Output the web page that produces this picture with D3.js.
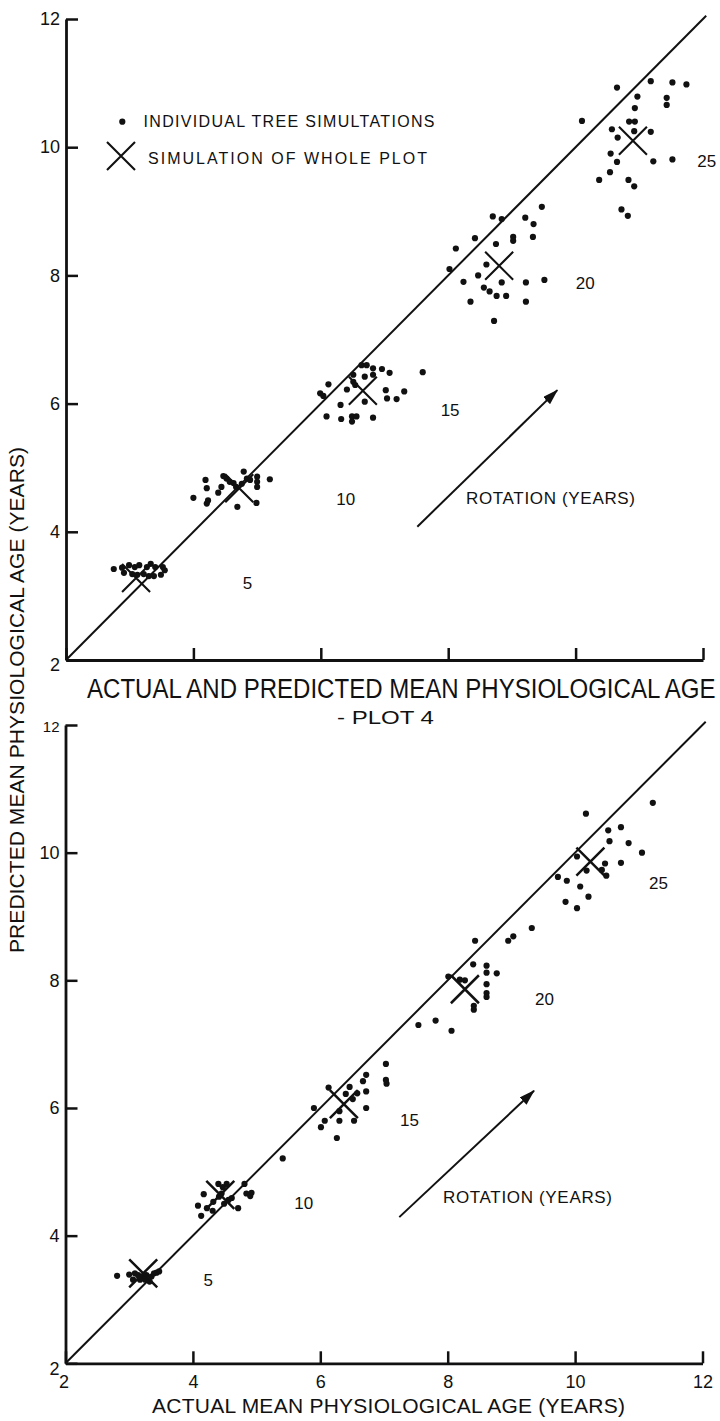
<!DOCTYPE html>
<html><head><meta charset="utf-8">
<script src="https://cdn.jsdelivr.net/npm/d3@7"></script>
<style>
body{margin:0;background:#fff}
svg{display:block}
text{font-family:"Liberation Sans",Arial,Helvetica,sans-serif;fill:#111}
</style>
</head><body>
<svg id="c" width="720" height="1421"></svg>
<script>
// ---------- DATA ----------
const tickValues = [2, 4, 6, 8, 10, 12];
const rotations = [5, 10, 15, 20, 25];

// [rotation, actual, predicted] – individual tree simulations, upper panel
const topIndividual = [
  [5,2.75,3.42],[5,2.88,3.44],[5,2.99,3.48],[5,3.08,3.45],[5,3.15,3.48],[5,3.27,3.45],[5,3.33,3.50],[5,3.40,3.45],[5,3.52,3.45],
  [5,2.91,3.36],[5,3.04,3.34],[5,3.12,3.33],[5,3.22,3.34],[5,3.30,3.31],[5,3.38,3.31],[5,3.49,3.33],[5,3.55,3.40],
  [10,4.00,4.53],[10,4.19,4.81],[10,4.21,4.68],[10,4.21,4.44],[10,4.23,4.49],[10,4.39,4.61],[10,4.44,4.70],[10,4.47,4.87],
  [10,4.52,4.83],[10,4.57,4.78],[10,4.63,4.76],[10,4.69,4.39],[10,4.79,4.94],[10,4.84,4.83],[10,4.89,4.81],[10,5.00,4.86],
  [10,5.00,4.78],[10,5.00,4.70],[10,5.20,4.82],[10,4.99,4.45],[10,4.67,4.70],[10,4.76,4.75],
  [15,5.99,6.16],[15,6.04,6.12],[15,6.12,6.30],[15,6.09,5.80],[15,6.31,5.98],[15,6.32,5.76],[15,6.41,6.22],[15,6.49,5.80],
  [15,6.49,5.72],[15,6.56,5.80],[15,6.51,6.45],[15,6.51,6.34],[15,6.54,6.29],[15,6.64,6.60],[15,6.72,6.60],[15,6.69,6.42],
  [15,6.82,6.55],[15,6.82,6.45],[15,6.96,6.54],[15,7.08,6.48],[15,6.82,5.78],[15,6.69,6.03],[15,7.02,6.21],[15,7.04,6.08],
  [15,7.19,6.07],[15,7.31,6.19],[15,7.60,6.49],
  [20,8.02,8.10],[20,8.12,8.42],[20,8.24,7.90],[20,8.35,7.59],[20,8.42,8.58],[20,8.47,8.00],[20,8.56,7.81],[20,8.60,8.17],
  [20,8.65,7.75],[20,8.70,8.92],[20,8.72,7.29],[20,8.75,8.49],[20,8.76,7.68],[20,8.84,8.88],[20,8.84,7.89],[20,8.91,7.68],
  [20,9.02,8.60],[20,9.02,8.54],[20,9.21,8.90],[20,9.22,7.89],[20,9.22,7.59],[20,9.34,8.80],[20,9.33,8.60],[20,9.47,9.07],
  [20,9.51,7.93],
  [25,10.10,10.41],[25,10.37,9.49],[25,10.54,9.61],[25,10.55,9.90],[25,10.57,10.28],[25,10.65,9.77],[25,10.65,10.93],
  [25,10.66,10.15],[25,10.72,9.03],[25,10.82,8.93],[25,10.83,9.49],[25,10.84,10.40],[25,10.93,10.40],[25,10.92,10.25],
  [25,10.92,9.39],[25,10.93,10.61],[25,10.97,10.79],[25,11.18,11.03],[25,11.18,10.24],[25,11.22,9.78],[25,11.43,10.77],
  [25,11.43,10.66],[25,11.52,11.01],[25,11.52,9.81],[25,11.74,10.98]
];
// [rotation, actual, predicted] – simulation of whole plot, upper panel
const topWhole = [[5,3.10,3.28],[10,4.72,4.68],[15,6.66,6.20],[20,8.80,8.15],[25,10.90,10.10]];

// lower panel (Plot 4)
const bottomIndividual = [
  [5,2.81,3.37],[5,3.00,3.39],[5,3.06,3.31],[5,3.09,3.41],[5,3.14,3.38],[5,3.21,3.36],[5,3.27,3.38],[5,3.32,3.28],
  [5,3.35,3.36],[5,3.39,3.41],[5,3.43,3.42],[5,3.47,3.44],[5,3.17,3.31],[5,3.25,3.31],
  [10,4.08,4.47],[10,4.13,4.31],[10,4.17,4.65],[10,4.22,4.43],[10,4.31,4.39],[10,4.40,4.81],[10,4.41,4.61],[10,4.45,4.66],
  [10,4.49,4.50],[10,4.53,4.81],[10,4.56,4.56],[10,4.61,4.59],[10,4.71,4.43],[10,4.81,4.81],[10,4.84,4.66],[10,4.90,4.62],
  [10,4.92,4.67],[10,4.32,4.53],[10,4.47,4.76],
  [15,5.41,5.21],[15,5.90,6.00],[15,6.01,5.70],[15,6.07,5.80],[15,6.13,6.32],[15,6.26,5.53],[15,6.30,5.95],[15,6.30,5.80],
  [15,6.40,6.22],[15,6.46,6.33],[15,6.51,6.14],[15,6.53,5.80],[15,6.58,6.23],[15,6.67,6.42],[15,6.72,6.52],[15,6.72,6.26],
  [15,6.72,6.00],[15,7.03,6.69],[15,7.03,6.44],[15,7.04,6.38],
  [20,7.54,7.30],[20,7.81,7.37],[20,8.06,7.21],[20,8.01,8.06],[20,8.19,8.01],[20,8.27,8.00],[20,8.40,8.25],[20,8.43,8.62],
  [20,8.41,7.60],[20,8.41,7.54],[20,8.61,8.23],[20,8.61,8.12],[20,8.61,7.94],[20,8.61,7.80],[20,8.61,7.74],[20,8.77,8.11],
  [20,8.95,8.62],[20,9.03,8.69],[20,9.32,8.82],
  [25,9.73,9.62],[25,9.85,9.23],[25,9.87,9.56],[25,10.03,9.94],[25,10.03,9.13],[25,10.08,9.47],[25,10.17,10.61],
  [25,10.18,9.72],[25,10.21,9.31],[25,10.42,9.73],[25,10.47,9.83],[25,10.49,9.64],[25,10.52,10.35],[25,10.54,10.18],
  [25,10.72,10.40],[25,10.72,9.84],[25,10.84,10.15],[25,11.05,10.00],[25,11.22,10.78]
];
const bottomWhole = [[5,3.22,3.41],[10,4.43,4.64],[15,6.37,6.06],[20,8.27,7.86],[25,10.24,9.86]];

// rotation label anchors [rotation, actual, predicted]
const topRotationLabels = [[5,4.85,3.21],[10,6.39,4.51],[15,8.03,5.90],[20,10.15,7.89],[25,12.06,9.78]];
const bottomRotationLabels = [[5,4.24,3.31],[10,5.74,4.51],[15,7.40,5.82],[20,9.52,7.71],[25,11.31,9.52]];
// rotation arrows [[x0,y0],[x1,y1]] in data units
const topArrow = [[7.515,4.08],[9.713,6.21]];
const bottomArrow = [[7.24,4.29],[9.355,6.27]];

// ---------- DRAW ----------
const svg = d3.select("#c");
const defs = svg.append("defs");
defs.append("marker").attr("id","ah").attr("viewBox","0 0 16 10").attr("refX",15).attr("refY",5)
  .attr("markerWidth",16).attr("markerHeight",10).attr("markerUnits","userSpaceOnUse").attr("orient","auto")
  .append("path").attr("d","M0,0L16,5L0,10Z").attr("fill","#111");

function crossPath(cx, cy, s){
  return `M${cx-s},${cy-s}L${cx+s},${cy+s}M${cx-s},${cy+s}L${cx+s},${cy-s}`;
}

function drawPanel(cfg){
  const x = d3.scaleLinear().domain([2,12]).range(cfg.xr);
  const y = d3.scaleLinear().domain([2,12]).range(cfg.yr);
  const g = svg.append("g");

  const ax = g.append("g").attr("transform",`translate(0,${cfg.yr[0]})`)
    .call(d3.axisBottom(x).tickValues(tickValues).tickSizeInner(-12).tickSizeOuter(0).tickPadding(12)
      .tickFormat(cfg.xLabels ? d3.format("d") : ""));
  const ay = g.append("g").attr("transform",`translate(${cfg.xr[0]},0)`)
    .call(d3.axisLeft(y).tickValues(tickValues).tickSizeInner(-12).tickSizeOuter(0).tickPadding(6)
      .tickFormat(d3.format("d")));
  [ax, ay].forEach(a => {
    a.select(".domain").attr("stroke","#111").attr("stroke-width",2.8);
    a.selectAll(".tick line").attr("stroke","#111").attr("stroke-width",2.5);
    a.selectAll(".tick text").attr("font-size",18).attr("fill","#111")
      .attr("font-family",'"Liberation Sans",Arial,sans-serif');
  });
  ay.selectAll(".tick").filter(d => d === 2).select("text").attr("dy","0.6em");
  if (cfg.small12) ay.selectAll(".tick").filter(d => d === 12).select("text").attr("font-size",15).attr("dy","0.45em");
  if (cfg.xLabels) ax.selectAll(".tick").filter(d => d === 2).select("text").attr("dx","-2");

  g.append("line").attr("x1",x(2)).attr("y1",y(2)).attr("x2",x(12.05)).attr("y2",y(12.05))
    .attr("stroke","#111").attr("stroke-width",2);

  g.append("g").selectAll("circle").data(cfg.indiv).join("circle")
    .attr("cx",d=>x(d[1])).attr("cy",d=>y(d[2])).attr("r",3.1).attr("fill","#111");

  g.append("g").selectAll("path").data(cfg.whole).join("path")
    .attr("d",d=>crossPath(x(d[1]),y(d[2]),14)).attr("stroke","#111").attr("stroke-width",cfg.crossW).attr("fill","none");

  g.append("g").selectAll("text").data(cfg.labels).join("text")
    .attr("x",d=>x(d[1])).attr("y",d=>y(d[2])).attr("dy","0.36em").attr("text-anchor","middle")
    .attr("font-size",17).text(d=>d[0]);

  g.append("line").attr("x1",x(cfg.arrow[0][0])).attr("y1",y(cfg.arrow[0][1]))
    .attr("x2",x(cfg.arrow[1][0])).attr("y2",y(cfg.arrow[1][1]))
    .attr("stroke","#111").attr("stroke-width",2).attr("marker-end","url(#ah)");
  g.append("text").attr("x",cfg.rot[0]).attr("y",cfg.rot[1]).attr("font-size",17)
    .attr("textLength",169).text("ROTATION (YEARS)");
  return {x,y,g};
}

const upperPanel = drawPanel({xr:[66,703], yr:[660,19], indiv:topIndividual, whole:topWhole, labels:topRotationLabels,
  arrow:topArrow, rot:[466,504], xLabels:false, small12:false, crossW:2.1});
const lowerPanel = drawPanel({xr:[65.5,702.5], yr:[1363.3,725], indiv:bottomIndividual, whole:bottomWhole, labels:bottomRotationLabels,
  arrow:bottomArrow, rot:[443,1203], xLabels:true, small12:true, crossW:2.5});

// legend (upper panel)
svg.append("circle").attr("cx",122.3).attr("cy",121.7).attr("r",3.1).attr("fill","#111");
svg.append("text").attr("x",143.5).attr("y",127).attr("font-size",16).attr("textLength",291).text("INDIVIDUAL TREE SIMULTATIONS");
svg.append("path").attr("d",crossPath(121,156,14)).attr("stroke","#111").attr("stroke-width",2.1);
svg.append("text").attr("x",148).attr("y",163.5).attr("font-size",16).attr("textLength",279).text("SIMULATION OF WHOLE PLOT");

// condensed titles: horizontally scaled so their real box fits the target width
function condensed(txt, x0, yBase, size, width){
  const t = svg.append("text").attr("x",0).attr("y",0).attr("font-size",size).text(txt);
  const natural = t.node().getComputedTextLength();
  t.attr("transform",`translate(${x0},${yBase}) scale(${width/natural},1)`);
  return t;
}
condensed("ACTUAL AND PREDICTED MEAN PHYSIOLOGICAL AGE", 87, 698, 27, 629);
condensed("- PLOT 4", 337, 724, 19, 97);

svg.append("text").attr("transform","translate(24,700) rotate(-90)").attr("text-anchor","middle")
  .attr("font-size",21).attr("textLength",506).text("PREDICTED MEAN PHYSIOLOGICAL AGE (YEARS)");
svg.append("text").attr("x",152).attr("y",1413).attr("font-size",21).attr("textLength",473)
  .text("ACTUAL MEAN PHYSIOLOGICAL AGE (YEARS)");
</script>
</body></html>
